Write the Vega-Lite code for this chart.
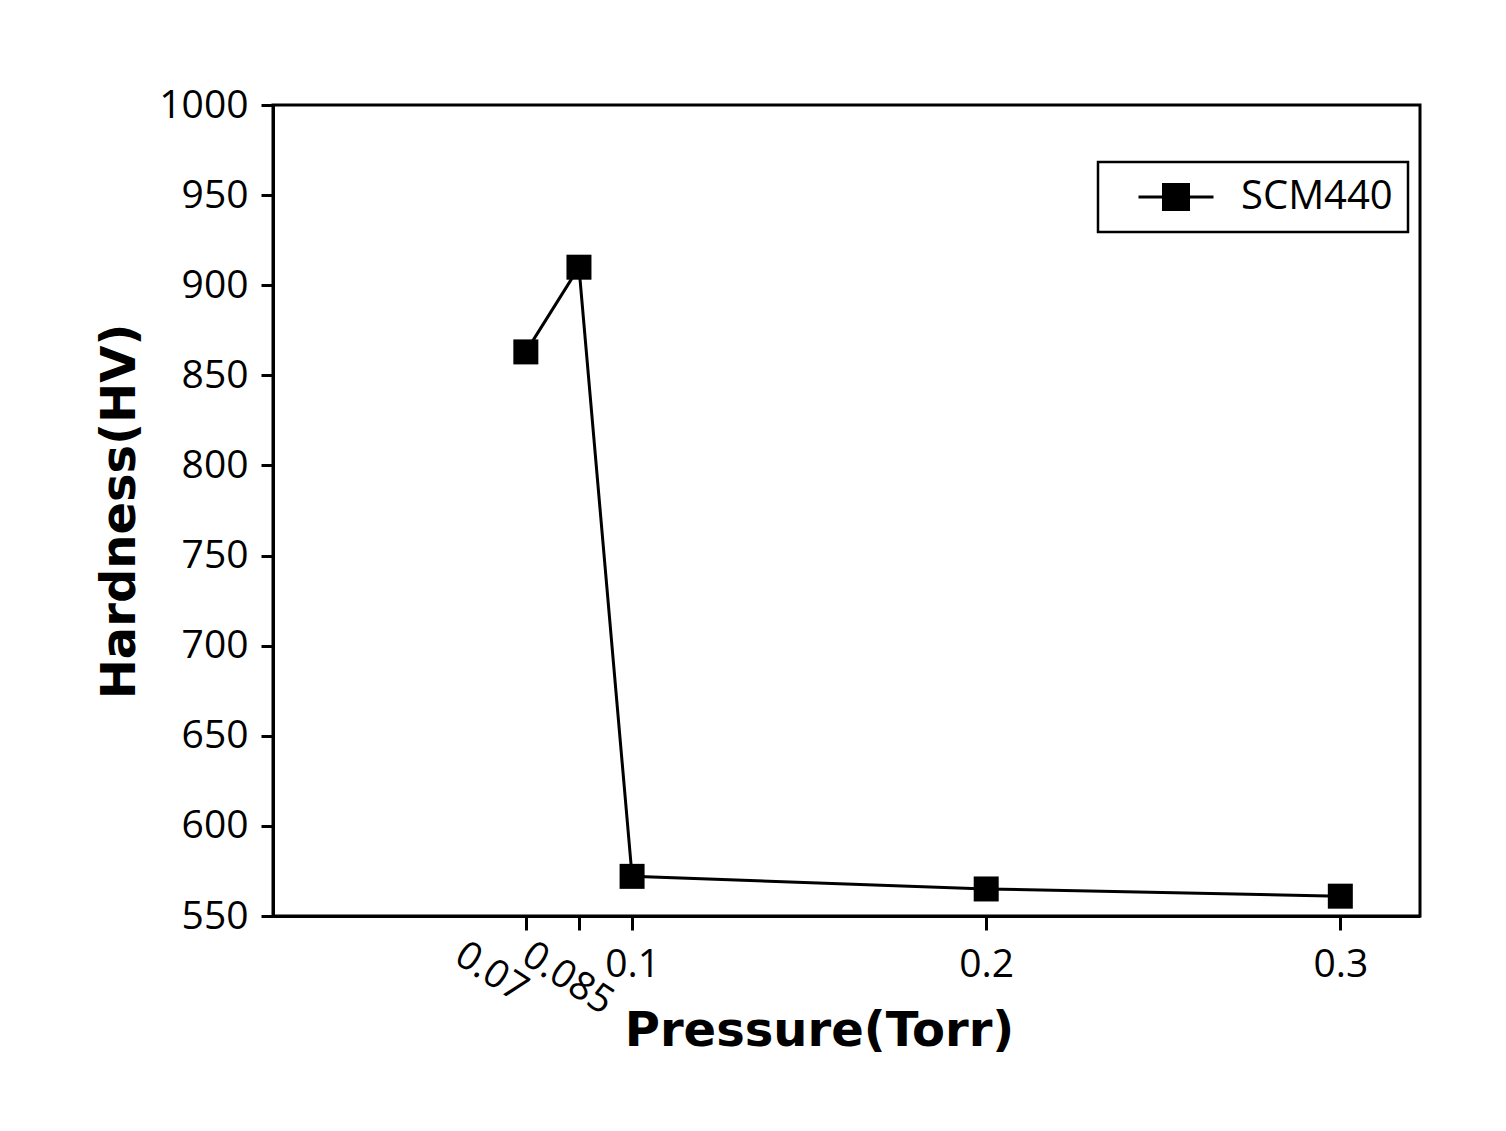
{
  "$schema": "https://vega.github.io/schema/vega-lite/v6.json",
  "width": 1147,
  "height": 811,
  "autosize": "none",
  "padding": {"left": 273, "top": 105, "right": 86, "bottom": 215},
  "background": "white",
  "config": {
    "view": {"stroke": "black", "strokeWidth": 3},
    "font": "Open Sans",
    "legend": {"strokeWidth": 2.5}
  },
  "data": {
    "values": [
      {"pressure": 0.07, "hardness": 863, "series": "SCM440"},
      {"pressure": 0.085, "hardness": 910, "series": "SCM440"},
      {"pressure": 0.1, "hardness": 572, "series": "SCM440"},
      {"pressure": 0.2, "hardness": 565, "series": "SCM440"},
      {"pressure": 0.3, "hardness": 561, "series": "SCM440"}
    ]
  },
  "mark": {
    "type": "line",
    "strokeWidth": 3,
    "point": {"shape": "square", "filled": true, "size": 625, "opacity": 1, "color": "black"}
  },
  "encoding": {
    "x": {
      "field": "pressure",
      "type": "quantitative",
      "scale": {"domain": [-0.0014, 0.3225], "nice": false, "zero": false},
      "axis": {
        "title": "Pressure(Torr)",
        "values": [0.07, 0.085, 0.1, 0.2, 0.3],
        "format": "~g",
        "grid": false,
        "domainColor": "black",
        "domainWidth": 3,
        "tickColor": "black",
        "tickWidth": 3,
        "tickSize": 14,
        "labelFont": "Open Sans",
        "labelFontSize": 39,
        "labelColor": "black",
        "labelPadding": {"condition": {"test": "datum.value < 0.095", "value": 5}, "value": 15},
        "labelOverlap": false,
        "labelFlush": false,
        "labelBound": false,
        "labelAngle": {"expr": "datum.value < 0.095 ? 33 : 0"},
        "labelAlign": {"condition": {"test": "datum.value < 0.095", "value": "left"}, "value": "center"},
        "labelBaseline": "top",
        "labelOffset": {"condition": [{"test": "datum.value < 0.075", "value": -57}, {"test": "datum.value < 0.095", "value": -43}], "value": 0},
        "titleFont": "DejaVu Sans",
        "titleFontWeight": "bold",
        "titleFontSize": 48,
        "titleColor": "black",
        "titleX": 546,
        "titleY": 129,
        "titleAlign": "center",
        "titleBaseline": "alphabetic"
      }
    },
    "y": {
      "field": "hardness",
      "type": "quantitative",
      "scale": {"domain": [550, 1000], "nice": false, "zero": false},
      "axis": {
        "title": "Hardness(HV)",
        "values": [550, 600, 650, 700, 750, 800, 850, 900, 950, 1000],
        "format": "d",
        "grid": false,
        "domainColor": "black",
        "domainWidth": 3,
        "tickColor": "black",
        "tickWidth": 3,
        "tickSize": 12,
        "labelFont": "Open Sans",
        "labelFontSize": 39,
        "labelColor": "black",
        "labelPadding": 13,
        "labelOverlap": false,
        "labelFlush": false,
        "titleFont": "DejaVu Sans",
        "titleFontWeight": "bold",
        "titleFontSize": 48,
        "titleColor": "black",
        "titleX": -139,
        "titleY": 406,
        "titleAngle": -90,
        "titleAlign": "center",
        "titleBaseline": "alphabetic"
      }
    },
    "color": {
      "field": "series",
      "type": "nominal",
      "scale": {"range": ["black"]},
      "legend": {
        "title": null,
        "orient": "none",
        "legendX": 825,
        "legendY": 57,
        "strokeColor": "black",
        "fillColor": "white",
        "padding": 15,
        "symbolType": "M-3,0H3M-1,-1H1V1H-1Z",
        "symbolSize": 625,
        "symbolStrokeWidth": 3,
        "symbolFillColor": "black",
        "symbolStrokeColor": "black",
        "symbolOffset": 43,
        "labelOffset": 45,
        "labelFont": "Open Sans",
        "labelFontSize": 40,
        "labelColor": "black"
      }
    }
  }
}
